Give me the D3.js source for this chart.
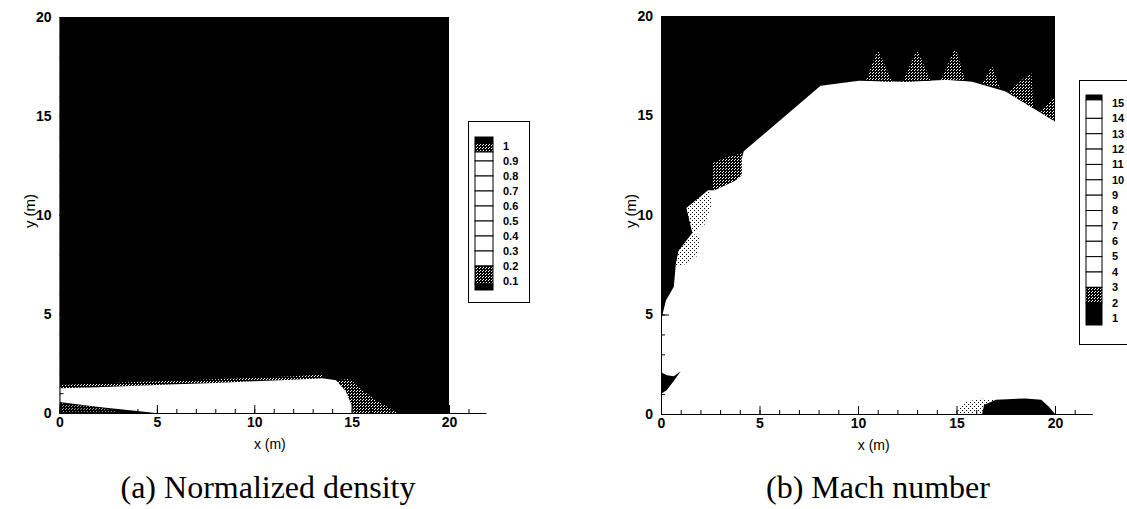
<!DOCTYPE html>
<html>
<head>
<meta charset="utf-8">
<script src="https://cdn.jsdelivr.net/npm/d3@7"></script>
<style>
  body { margin: 0; background: #fff; }
  text { font-family: "Liberation Sans", Arial, sans-serif; }
</style>
</head>
<body>
<svg width="1127" height="509"></svg>
<script>
// ticks
const majorTicks = [0, 5, 10, 15, 20]
const minorTicks = [0, 1, 2, 3, 4, 5, 6, 7, 8, 9, 10, 11, 12, 13, 14, 15, 16, 17, 18, 19, 20, 21]

// (a) density: everything is black except these regions (x, y in m)
const densWhite = [[0, 1.25], [2, 1.3], [4, 1.38], [6, 1.45], [8, 1.52], [10, 1.6], [12, 1.68], [13.5, 1.75], [14.2, 1.65],
  [14.7, 1.1], [15.0, 0.4], [15.1, 0], [4.9, 0], [4, 0.1], [2, 0.3], [0, 0.55]]
const densMix = [[14.2, 1.65], [14.9, 1.72], [15.5, 1.2], [16.3, 0.6], [17.4, 0], [15.1, 0], [15.0, 0.4], [14.7, 1.1]]
const densEdge = [[0, 1.25], [4, 1.38], [8, 1.52], [12, 1.68], [13.5, 1.75], [13.5, 1.95], [12, 1.85], [8, 1.7], [4, 1.56], [0, 1.42]]
const densWedge = [[0, 0.05], [3, 0.05], [2, 0.3], [0, 0.5]]
const densLevels = [1, 0.9, 0.8, 0.7, 0.6, 0.5, 0.4, 0.3, 0.2, 0.1]
const densLabels = ["1", "0.9", "0.8", "0.7", "0.6", "0.5", "0.4", "0.3", "0.2", "0.1"]

// (b) Mach number: white background with these regions
const machBlack = [[0, 20], [20, 20], [20, 14.7], [17.5, 16.2], [15.8, 16.7], [14.6, 16.8], [12.4, 16.7], [10.05, 16.75],
  [8.1, 16.5], [4.2, 13.2], [3.8, 11.75], [2.7, 11.25], [2.4, 11.25], [1.3, 10.35], [1.6, 9.1], [0.9, 8.2],
  [0.75, 7.5], [0.65, 6.4], [0.25, 5.7], [0.05, 4.9], [0, 4.1]]
const machSpeck = [
  [[2.6, 11.3], [2.6, 12.6], [3.3, 12.9], [4.1, 13.1], [4.1, 12.0], [3.8, 11.75], [2.7, 11.25]],
  [[10.4, 16.75], [11.0, 18.3], [11.75, 16.7]],
  [[12.25, 16.7], [13.0, 18.3], [13.7, 16.75]],
  [[14.2, 16.8], [14.95, 18.4], [15.45, 16.75]],
  [[16.3, 16.6], [16.8, 17.5], [17.2, 16.4]],
  [[17.6, 16.15], [18.8, 17.2], [18.9, 15.36]],
  [[19.2, 15.2], [20, 15.9], [20, 14.7]]
]
const machDots = [
  [[1.3, 10.35], [2.4, 11.25], [2.6, 10.6], [2.2, 9.5], [1.6, 9.1]],
  [[0.9, 8.2], [1.6, 9.1], [2.0, 8.8], [1.8, 7.9], [1.0, 7.4], [0.75, 7.5]],
  [[15.0, 0], [15.3, 0.55], [16.2, 0.78], [17.0, 0.72], [16.4, 0.45], [16.3, 0]]
]
const machLowPatch = [[0, 1.0], [0, 2.1], [0.3, 1.95], [0.65, 1.9], [1.0, 2.15], [0.6, 1.6], [0.3, 1.2]]
const machBlob = [[16.3, 0], [16.4, 0.45], [17, 0.72], [18.5, 0.78], [19.3, 0.72], [19.7, 0.35], [20, 0]]
const machLevels = [15, 14, 13, 12, 11, 10, 9, 8, 7, 6, 5, 4, 3, 2, 1]

const svg = d3.select("svg")
const defs = svg.append("defs")

// white specks on black
const pSpeck = defs.append("pattern").attr("id", "speck")
  .attr("width", 3).attr("height", 3).attr("patternUnits", "userSpaceOnUse")
pSpeck.append("rect").attr("width", 3).attr("height", 3).attr("fill", "#000")
pSpeck.append("rect").attr("x", 0).attr("y", 0).attr("width", 1).attr("height", 1).attr("fill", "#fff")
pSpeck.append("rect").attr("x", 2).attr("y", 1).attr("width", 1).attr("height", 1).attr("fill", "#fff")
// black dots on white
const pDots = defs.append("pattern").attr("id", "dots")
  .attr("width", 4).attr("height", 4).attr("patternUnits", "userSpaceOnUse")
pDots.append("rect").attr("width", 4).attr("height", 4).attr("fill", "#fff")
pDots.append("rect").attr("x", 0).attr("y", 0).attr("width", 1).attr("height", 1).attr("fill", "#000")
pDots.append("rect").attr("x", 2).attr("y", 2).attr("width", 1).attr("height", 1).attr("fill", "#000")

function panel(cfg) {
  const x = d3.scaleLinear().domain([0, 20]).range(cfg.xr)
  const y = d3.scaleLinear().domain([0, 20]).range(cfg.yr)
  const g = svg.append("g")
  const line = d3.line().x(d => x(d[0])).y(d => y(d[1]))
  const poly = pts => line(pts) + "Z"

  defs.append("clipPath").attr("id", cfg.id + "clip")
    .append("rect").attr("x", x(0)).attr("y", y(20))
    .attr("width", x(20) - x(0)).attr("height", y(0) - y(20))
  const plot = g.append("g").attr("clip-path", `url(#${cfg.id}clip)`)
  cfg.draw(plot, poly, x, y)

  // axes: ticks point into the plot
  const xa = x.copy().domain([0, 21.9]).range([x(0), x(21.9)])
  g.append("g").attr("transform", `translate(0,${y(0)})`)
    .call(d3.axisBottom(xa).tickValues(minorTicks).tickSize(-4).tickFormat(""))
    .call(a => a.select(".domain").remove())
  g.append("g").attr("transform", `translate(0,${y(0)})`)
    .call(d3.axisBottom(xa).tickValues(majorTicks).tickSize(-8).tickSizeOuter(0).tickPadding(4))
  g.append("g").attr("transform", `translate(${x(0)},0)`)
    .call(d3.axisLeft(y).tickValues(minorTicks.slice(0, 21)).tickSize(-4).tickFormat(""))
    .call(a => a.select(".domain").remove())
  g.append("g").attr("transform", `translate(${x(0)},0)`)
    .call(d3.axisLeft(y).tickValues(majorTicks).tickSize(-8).tickSizeOuter(0).tickPadding(8))
  g.selectAll(".tick text").attr("font-size", 14).attr("font-weight", "bold")
  g.selectAll(".domain, .tick line").attr("stroke", "#000")

  g.append("text").attr("x", x(10.8)).attr("y", y(0) + 36).attr("text-anchor", "middle")
    .attr("font-size", 14).text("x (m)")
  g.append("text").attr("transform", `translate(${x(0) - 25},${y(10.2)}) rotate(-90)`)
    .attr("text-anchor", "middle").attr("font-size", 15).text("y (m)")
  g.append("text").attr("x", cfg.capX).attr("y", 498).attr("text-anchor", "middle")
    .style("font-family", "'Liberation Serif', 'Times New Roman', serif").attr("font-size", 32)
    .text(cfg.caption)

  // legend
  const L = cfg.legend
  g.append("rect").attr("x", L.box[0]).attr("y", L.box[1]).attr("width", L.box[2]).attr("height", L.box[3])
    .attr("fill", "#fff").attr("stroke", "#000")
  const ly = d3.scaleLinear().domain(L.domain).range(L.range)
  const cuts = [L.domain[0]].concat(L.cuts, [L.domain[1]])
  g.append("g").selectAll("rect").data(d3.pairs(cuts)).join("rect")
    .attr("x", L.bx).attr("width", L.bw)
    .attr("y", d => ly(d[0])).attr("height", d => ly(d[1]) - ly(d[0]))
    .attr("fill", d => L.fill(d)).attr("stroke", "#000").attr("stroke-width", 1)
  g.append("g").selectAll("text").data(L.levels).join("text")
    .attr("x", L.tx).attr("y", d => ly(d)).attr("dy", "0.35em")
    .attr("font-size", L.fs).attr("font-weight", "bold")
    .text((d, i) => L.labels ? L.labels[i] : d)
}

panel({
  id: "a", xr: [59.5, 449], yr: [413, 17], capX: 268, caption: "(a) Normalized density",
  draw(p, poly, x, y) {
    p.append("rect").attr("x", x(0)).attr("y", y(20)).attr("width", x(20) - x(0)).attr("height", y(0) - y(20)).attr("fill", "#000")
    p.append("path").attr("d", poly(densEdge)).attr("fill", "url(#speck)")
    p.append("path").attr("d", poly(densMix)).attr("fill", "url(#speck)")
    p.append("path").attr("d", poly(densWhite)).attr("fill", "#fff")
    p.append("path").attr("d", poly(densWedge)).attr("fill", "url(#speck)").attr("opacity", 0.6)
  },
  legend: {
    box: [468.5, 121.5, 61, 181], bx: 475, bw: 18, tx: 503, fs: 11,
    domain: [1.06, 0.04], range: [137, 290],
    cuts: [1.02, 0.96, 0.9, 0.8, 0.7, 0.6, 0.5, 0.4, 0.3, 0.2, 0.08],
    levels: densLevels, labels: densLabels,
    fill: d => d[0] > 1.02 || d[1] < 0.08 ? "#000" : (d[0] > 0.97 || d[0] < 0.21 ? "url(#speck)" : "#fff")
  }
})

panel({
  id: "b", xr: [661, 1055], yr: [414, 16], capX: 878, caption: "(b) Mach number",
  draw(p, poly, x, y) {
    p.append("path").attr("d", poly(machBlack)).attr("fill", "#000")
    p.selectAll(".sp").data(machSpeck).join("path").attr("d", poly).attr("fill", "url(#speck)")
    p.selectAll(".dt").data(machDots).join("path").attr("d", poly).attr("fill", "url(#dots)")
    p.append("path").attr("d", poly(machLowPatch)).attr("fill", "#000")
    p.append("path").attr("d", poly(machBlob)).attr("fill", "#000")
  },
  legend: {
    box: [1079.5, 80.5, 60, 264], bx: 1086, bw: 16, tx: 1112, fs: 11,
    domain: [15.52, 0.55], range: [95, 325],
    cuts: [15.2, 14, 13, 12, 11, 10, 9, 8, 7, 6, 5, 4, 3, 2],
    levels: machLevels,
    fill: d => d[0] > 15.3 || d[1] < 1 ? "#000" : (d[1] >= 2 && d[0] <= 3 ? "url(#speck)" : "#fff")
  }
})
</script>
</body>
</html>
